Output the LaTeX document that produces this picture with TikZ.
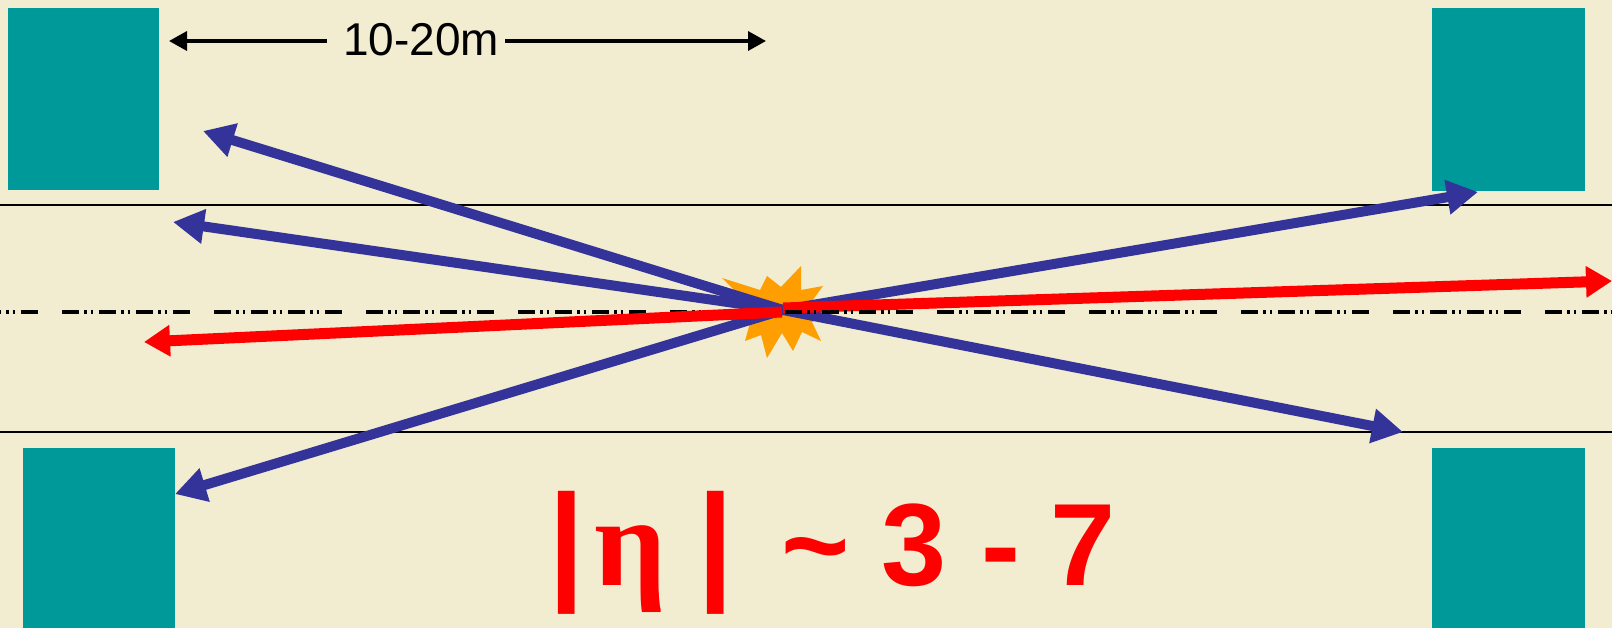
\documentclass[tikz,border=0pt]{standalone}
\usepackage{fontspec}
\setmainfont{Liberation Sans}
\newfontfamily\greekserif{Liberation Serif}
\usetikzlibrary{arrows.meta}
\definecolor{parch}{RGB}{242,236,209}
\definecolor{boxteal}{RGB}{0,153,153}
\definecolor{arrowblue}{RGB}{51,51,153}
\definecolor{flashorange}{RGB}{255,158,0}
\definecolor{etared}{RGB}{255,0,0}
\begin{document}
\begin{tikzpicture}[x=1pt,y=-1pt,
  detbox/.style={fill=boxteal,draw=none},
  roadline/.style={draw=black,line width=2pt},
  beamaxis/.style={draw=black,line width=3.5pt,
    dash pattern=on 17pt off 5pt on 2.5pt off 4pt on 2.5pt off 6pt
                 on 17pt off 5pt on 2.5pt off 4pt on 2.5pt off 6pt
                 on 17pt off 5pt on 2.5pt off 4pt on 2.5pt off 6pt
                 on 17pt off 24pt},
  bluetrack/.style={draw=arrowblue,line width=10pt,-{Triangle[length=31pt,width=33pt]}},
  redtrack/.style={draw=etared,line width=11pt,-{Triangle[length=26pt,width=30pt]}},
  dimarrow/.style={draw=black,line width=3.5pt,-{Triangle[length=18pt,width=19pt]}},
  dimlabel/.style={font=\fontsize{46}{50}\selectfont,inner sep=0pt,text=black},
  etalabel/.style={font=\fontsize{117}{120}\selectfont\bfseries,inner sep=0pt,text=etared},
]
% background
\fill[parch] (0,0) rectangle (1612,628);
\useasboundingbox (0,0) rectangle (1612,628);

% detector boxes
\path[detbox] (8,8) rectangle (159,190);
\path[detbox] (1432,8) rectangle (1585,191);
\path[detbox] (23,448) rectangle (175,628);
\path[detbox] (1432,448) rectangle (1585,628);

% road lines
\coordinate (rtl) at (0,205);
\coordinate (rtr) at (1612,205);
\coordinate (rbl) at (0,432);
\coordinate (rbr) at (1612,432);
\draw[roadline] (rtl) -- (rtr);
\draw[roadline] (rbl) -- (rbr);

% collision point and track ends
\coordinate (C) at (783,310);
\coordinate (Cl) at (782,312);
\coordinate (Cr) at (783,308);
\coordinate (axL) at (0,312);
\coordinate (axC) at (785,312);
\coordinate (axR) at (1612,312);
\coordinate (b1) at (203,131);
\coordinate (b2) at (173,222);
\coordinate (b3) at (175,494);
\coordinate (b4) at (1478,192);
\coordinate (b5) at (1403,432);
\coordinate (r1) at (144,342);
\coordinate (r2) at (1612,281);

% beam axis, left part
\draw[beamaxis,dash phase=90pt] (axL) -- (axC);

% flash
\fill[flashorange] (722,278) -- (760,290) -- (767,276) -- (781,287) -- (801,266)
  -- (801,290) -- (823,286) -- (812,301) -- (832,312) -- (812,322) -- (821,341)
  -- (802,332) -- (793,351) -- (782,333) -- (767,358) -- (761,335) -- (745,341)
  -- (750,323) -- (728,318) -- (750,306) -- cycle;

% tracks
\draw[bluetrack] (C) -- (b1);
\draw[bluetrack] (C) -- (b2);
\draw[bluetrack] (C) -- (b3);
\draw[bluetrack] (C) -- (b4);
\draw[bluetrack] (C) -- (b5);
\draw[redtrack] (Cl) -- (r1);
\draw[redtrack] (Cr) -- (r2);

% beam axis, right part
\draw[beamaxis] (axC) -- (axR);

% dimension
\node[dimlabel] (dimtxt) at (421,40) {10-20m};
\coordinate (dl) at (169,41);
\coordinate (dlin) at (327,41);
\coordinate (dr) at (766,41);
\coordinate (drin) at (505,41);
\draw[dimarrow] (dlin) -- (dl);
\draw[dimarrow] (drin) -- (dr);

% eta label
\node[etalabel,anchor=base west] (eta) at (566,585)
  {\makebox[0pt]{\fontsize{130}{130}\selectfont|}\hspace{64pt}%
   \makebox[0pt]{\greekserif\bfseries\fontsize{127}{127}\selectfont η}\hspace{85pt}%
   \makebox[0pt]{\fontsize{130}{130}\selectfont|}\hspace{100pt}%
   \makebox[0pt]{\textasciitilde}\hspace{99pt}%
   \makebox[0pt]{3}\hspace{87pt}%
   \makebox[0pt]{-}\hspace{82pt}%
   \makebox[0pt]{7}};
\end{tikzpicture}
\end{document}
